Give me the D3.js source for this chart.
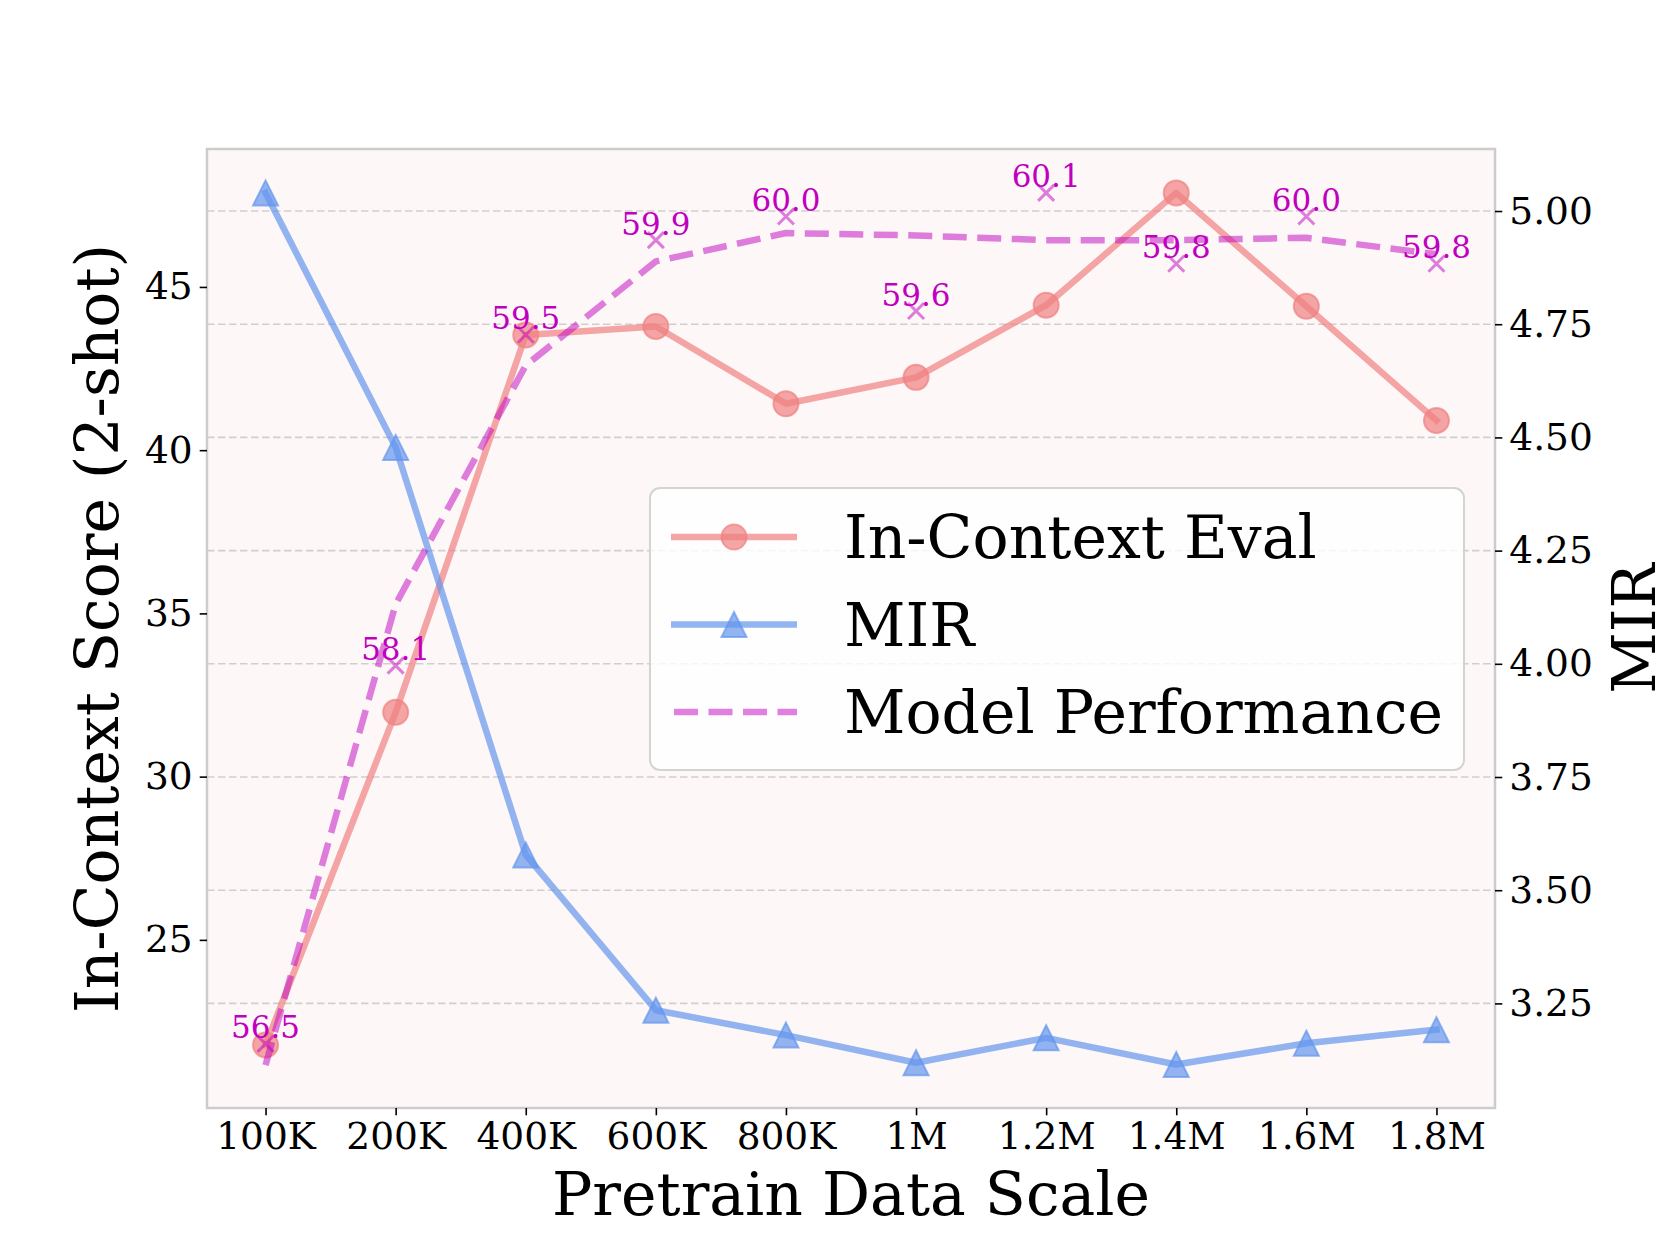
<!DOCTYPE html>
<html>
<head>
<meta charset="utf-8">
<script src="https://cdn.jsdelivr.net/npm/d3@7"></script>
<style>
  body { margin: 0; background: #ffffff; }
  svg { display: block; font-family: "DejaVu Serif", serif; }
</style>
</head>
<body>
<div id="chart"></div>
<script>
// Data
const scaleLabels = ["100K", "200K", "400K", "600K", "800K", "1M", "1.2M", "1.4M", "1.6M", "1.8M"];
const inContextScores = [21.78, 31.97, 43.53, 43.79, 41.42, 42.23, 44.44, 47.88, 44.41, 40.91];
const mirValues = [5.040, 4.478, 3.578, 3.235, 3.180, 3.119, 3.174, 3.115, 3.162, 3.192];
const perfTrend = [56.41, 58.36, 59.37, 59.81, 59.93, 59.92, 59.90, 59.90, 59.91, 59.84];
const perfScores = [56.5, 58.1, 59.5, 59.9, 60.0, 59.6, 60.1, 59.8, 60.0, 59.8];
const scoreTicks = [25, 30, 35, 40, 45];
const mirTicks = [3.25, 3.50, 3.75, 4.00, 4.25, 4.50, 4.75, 5.00];
const legendNames = ["In-Context Eval", "MIR", "Model Performance"];

const drawChart = () => {

  /*******************************/
  /*    Declare the constants    */
  /*******************************/
  const margin = {top: 149, right: 166, bottom: 138, left: 207};
  const width = 1661;
  const height = 1246;
  const innerWidth = width - margin.left - margin.right;
  const innerHeight = height - margin.top - margin.bottom;

  const coral = "#f08080";
  const blue = "#6495ed";
  const magenta = "#bf00bf";
  const tickFont = 37.5;

  /*******************************/
  /*    Append the containers    */
  /*******************************/
  const svg = d3.select("#chart")
    .append("svg")
      .attr("width", width)
      .attr("height", height)
      .attr("viewBox", `0, 0, ${width}, ${height}`);

  svg.append("rect")
    .attr("width", width)
    .attr("height", height)
    .attr("fill", "#ffffff");

  const innerChart = svg
    .append("g")
      .attr("transform", `translate(${margin.left}, ${margin.top})`);

  /*******************************/
  /*          Scales             */
  /*******************************/
  const xScale = d3.scalePoint()
    .domain(scaleLabels)
    .range([0, innerWidth])
    .padding(0.45);

  const yScore = d3.scaleLinear()
    .domain([19.85, 49.225])
    .range([innerHeight, 0]);

  const yMir = d3.scaleLinear()
    .domain([3.019, 5.137])
    .range([innerHeight, 0]);

  const yPerf = d3.scaleLinear()
    .domain([56.229, 60.2855])
    .range([innerHeight, 0]);

  // background + grid (from the MIR axis)
  innerChart.append("rect")
    .attr("width", innerWidth)
    .attr("height", innerHeight)
    .attr("fill", "#fdf8f7");

  innerChart.append("g")
    .selectAll("line")
    .data(mirTicks)
    .join("line")
      .attr("x1", 0)
      .attr("x2", innerWidth)
      .attr("y1", d => yMir(d))
      .attr("y2", d => yMir(d))
      .attr("stroke", "#cfcfcf")
      .attr("stroke-width", 1.6)
      .attr("stroke-dasharray", "7.5,3.5");

  /*******************************/
  /*          Series             */
  /*******************************/
  const lineScore = d3.line()
    .x((d, i) => xScale(scaleLabels[i]))
    .y(d => yScore(d));

  const lineMir = d3.line()
    .x((d, i) => xScale(scaleLabels[i]))
    .y(d => yMir(d));

  const linePerf = d3.line()
    .x((d, i) => xScale(scaleLabels[i]))
    .y(d => yPerf(d));

  // In-Context Eval
  innerChart.append("path")
    .attr("d", lineScore(inContextScores))
    .attr("fill", "none")
    .attr("stroke", coral)
    .attr("stroke-opacity", 0.7)
    .attr("stroke-width", 6.5)
    .attr("stroke-linejoin", "round")
    .attr("stroke-linecap", "square");

  innerChart.append("g")
    .selectAll("circle")
    .data(inContextScores)
    .join("circle")
      .attr("cx", (d, i) => xScale(scaleLabels[i]))
      .attr("cy", d => yScore(d))
      .attr("r", 12.5)
      .attr("fill", coral)
      .attr("fill-opacity", 0.7)
      .attr("stroke", coral)
      .attr("stroke-opacity", 0.7)
      .attr("stroke-width", 2);

  // MIR
  innerChart.append("path")
    .attr("d", lineMir(mirValues))
    .attr("fill", "none")
    .attr("stroke", blue)
    .attr("stroke-opacity", 0.7)
    .attr("stroke-width", 6.5)
    .attr("stroke-linejoin", "round")
    .attr("stroke-linecap", "square");

  const triangle = "M0,-12.5L12.5,12.5L-12.5,12.5Z";

  innerChart.append("g")
    .selectAll("path")
    .data(mirValues)
    .join("path")
      .attr("d", triangle)
      .attr("transform", (d, i) => `translate(${xScale(scaleLabels[i])}, ${yMir(d)})`)
      .attr("fill", blue)
      .attr("fill-opacity", 0.7)
      .attr("stroke", blue)
      .attr("stroke-opacity", 0.7)
      .attr("stroke-width", 2)
      .attr("stroke-linejoin", "miter");

  // Model Performance
  innerChart.append("path")
    .attr("d", linePerf(perfTrend))
    .attr("fill", "none")
    .attr("stroke", magenta)
    .attr("stroke-opacity", 0.5)
    .attr("stroke-width", 6.5)
    .attr("stroke-dasharray", "24,10.5")
    .attr("stroke-linejoin", "round")
    .attr("stroke-linecap", "butt");

  innerChart.append("g")
    .selectAll("path")
    .data(perfScores)
    .join("path")
      .attr("d", "M-8,-8L8,8M-8,8L8,-8")
      .attr("transform", (d, i) => `translate(${xScale(scaleLabels[i])}, ${yPerf(d)})`)
      .attr("fill", "none")
      .attr("stroke", magenta)
      .attr("stroke-opacity", 0.5)
      .attr("stroke-width", 3);

  innerChart.append("g")
    .selectAll("text")
    .data(perfScores)
    .join("text")
      .attr("x", (d, i) => xScale(scaleLabels[i]))
      .attr("y", d => yPerf(d) - 5.5)
      .attr("text-anchor", "middle")
      .attr("font-size", 31)
      .attr("fill", magenta)
      .text(d => d.toFixed(1));

  // frame
  innerChart.append("rect")
    .attr("width", innerWidth)
    .attr("height", innerHeight)
    .attr("fill", "none")
    .attr("stroke", "#cccccc")
    .attr("stroke-width", 2.5);

  /*******************************/
  /*           Axes              */
  /*******************************/
  const styleAxis = (g) => {
    g.select(".domain").remove();
    g.selectAll(".tick line")
      .attr("stroke", "#000")
      .attr("stroke-width", 1.6);
    g.selectAll(".tick text")
      .attr("fill", "#000")
      .attr("font-size", tickFont)
      .attr("font-family", "DejaVu Serif");
  };

  const xAxis = d3.axisBottom(xScale)
    .tickSize(7.3)
    .tickPadding(7)
    .tickSizeOuter(0);

  innerChart
    .append("g")
      .attr("transform", `translate(0, ${innerHeight})`)
    .call(xAxis)
    .call(styleAxis);

  const yAxisLeft = d3.axisLeft(yScore)
    .tickValues(scoreTicks)
    .tickFormat(d3.format("d"))
    .tickSize(7.3)
    .tickPadding(7)
    .tickSizeOuter(0);

  innerChart
    .append("g")
    .call(yAxisLeft)
    .call(styleAxis);

  const yAxisRight = d3.axisRight(yMir)
    .tickValues(mirTicks)
    .tickFormat(d3.format(".2f"))
    .tickSize(7.3)
    .tickPadding(7)
    .tickSizeOuter(0);

  innerChart
    .append("g")
      .attr("transform", `translate(${innerWidth}, 0)`)
    .call(yAxisRight)
    .call(styleAxis);

  // axis titles
  svg.append("text")
    .text("Pretrain Data Scale")
    .attr("x", margin.left + innerWidth / 2)
    .attr("y", 1215)
    .attr("text-anchor", "middle")
    .attr("font-size", 60);

  svg.append("text")
    .text("In-Context Score (2-shot)")
    .attr("transform", `translate(118, ${margin.top + innerHeight / 2}) rotate(-90)`)
    .attr("text-anchor", "middle")
    .attr("font-size", 60);

  svg.append("text")
    .text("MIR")
    .attr("transform", `translate(1655, ${margin.top + innerHeight / 2}) rotate(-90)`)
    .attr("text-anchor", "middle")
    .attr("font-size", 60);

  /*******************************/
  /*          Legend             */
  /*******************************/
  const legend = svg.append("g");

  legend.append("rect")
    .attr("x", 650)
    .attr("y", 488)
    .attr("width", 814)
    .attr("height", 282)
    .attr("rx", 10)
    .attr("fill", "#ffffff")
    .attr("fill-opacity", 0.8)
    .attr("stroke", "#d3d3d3")
    .attr("stroke-width", 2);

  const rowY = [537, 624.5, 712];
  const colours = [coral, blue, magenta];

  legend.selectAll(".legend-line")
    .data(legendNames)
    .join("line")
      .attr("class", "legend-line")
      .attr("x1", 671)
      .attr("x2", 797)
      .attr("y1", (d, i) => rowY[i])
      .attr("y2", (d, i) => rowY[i])
      .attr("stroke", (d, i) => colours[i])
      .attr("stroke-opacity", (d, i) => i === 2 ? 0.5 : 0.7)
      .attr("stroke-width", 6.5)
      .attr("stroke-dasharray", (d, i) => i === 2 ? "24,10.5" : null)
      .attr("stroke-dashoffset", (d, i) => i === 2 ? -3 : null);

  legend.append("circle")
    .attr("cx", 734)
    .attr("cy", rowY[0])
    .attr("r", 12.5)
    .attr("fill", coral)
    .attr("fill-opacity", 0.7)
    .attr("stroke", coral)
    .attr("stroke-opacity", 0.7)
    .attr("stroke-width", 2);

  legend.append("path")
    .attr("d", triangle)
    .attr("transform", `translate(734, ${rowY[1]})`)
    .attr("fill", blue)
    .attr("fill-opacity", 0.7)
    .attr("stroke", blue)
    .attr("stroke-opacity", 0.7)
    .attr("stroke-width", 2);

  legend.selectAll(".legend-text")
    .data(legendNames)
    .join("text")
      .attr("class", "legend-text")
      .attr("x", 844)
      .attr("y", (d, i) => rowY[i] + 21)
      .attr("font-size", 60)
      .attr("fill", "#000")
      .text(d => d);
};

drawChart();
</script>
</body>
</html>
